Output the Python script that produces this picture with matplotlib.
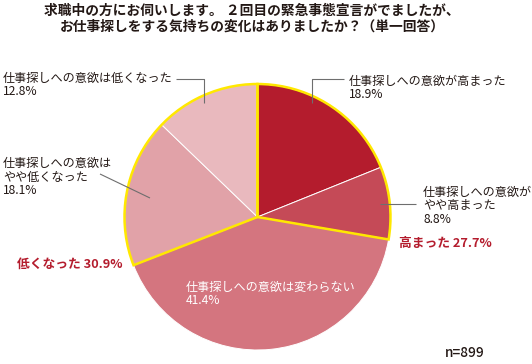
import matplotlib
matplotlib.use("Agg")
import matplotlib.pyplot as plt

plt.rcParams['font.family'] = ['Noto Sans CJK JP', 'DejaVu Sans']

# データ（時計回り、12時から）
labels = ["仕事探しへの意欲が高まった", "仕事探しへの意欲が\nやや高まった", "仕事探しへの意欲は変わらない",
          "仕事探しへの意欲は\nやや低くなった", "仕事探しへの意欲は低くなった"]
values = [18.9, 8.8, 41.4, 18.1, 12.8]
colors = ["#b41c2d", "#c54a57", "#d4757f", "#e1a2a8", "#e9b9be"]
group_names = ["高まった", "変わらない", "低くなった"]
group_values = [27.7, 41.4, 30.9]
n_total = 899

W, H = 532, 364
fig = plt.figure(figsize=(W / 100, H / 100), dpi=100)
ax = fig.add_axes([0, 0, 1, 1])

cx, cy, r = 257.5, H - 217, 133

ax.pie(values, colors=colors, startangle=90, counterclock=False,
       center=(cx, cy), radius=r, frame=True,
       wedgeprops=dict(edgecolor='white', linewidth=0.7))
# グループの黄色い枠
gw, _ = ax.pie(group_values, startangle=90, counterclock=False,
               center=(cx, cy), radius=r, frame=True,
               wedgeprops=dict(fill=False, linewidth=1.8))
for w, ec in zip(gw, ["#ffe800", "none", "#ffe800"]):
    w.set_edgecolor(ec)
ax.set_xlim(0, W)
ax.set_ylim(0, H)
ax.axis('off')

def T(x, y, s, **kw):
    kw.setdefault('fontsize', 8.7)
    kw.setdefault('color', '#231815')
    kw.setdefault('va', 'center')
    ax.text(x, H - y, s, linespacing=1.05, **kw)

def L(xs, ys):
    ax.plot(xs, [H - y for y in ys], color='#6e6e6e', lw=0.8, solid_capstyle='butt')

# タイトル
T(252, 11, "求職中の方にお伺いします。 ２回目の緊急事態宣言がでましたが、", ha='center',
  fontsize=9.9, fontweight='bold')
T(252, 27, "お仕事探しをする気持ちの変化はありましたか？（単一回答）", ha='center',
  fontsize=9.9, fontweight='bold')

# ラベル
T(349, 88, f"{labels[0]}\n{values[0]}%")
L([312, 312, 344], [103, 79, 79])

T(423, 206, f"{labels[1]}\n{values[1]}%")
L([380, 416], [204, 204])

T(3, 85, f"{labels[4]}\n{values[4]}%")
L([176, 204, 204], [79, 79, 103])

T(3, 177, f"{labels[3]}\n{values[3]}%")
L([100, 150], [174, 198])

T(186, 294, f"{labels[2]}\n{values[2]}%", color='white')

T(399, 243, f"{group_names[0]} {group_values[0]}%", color='#b41c2d', fontweight='bold', fontsize=9.2)
T(17, 264, f"{group_names[2]} {group_values[2]}%", color='#b41c2d', fontweight='bold', fontsize=9.2)

T(445, 353, f"n={n_total}", fontsize=9.8, fontweight='medium')

fig.savefig("out.png", dpi=100)
